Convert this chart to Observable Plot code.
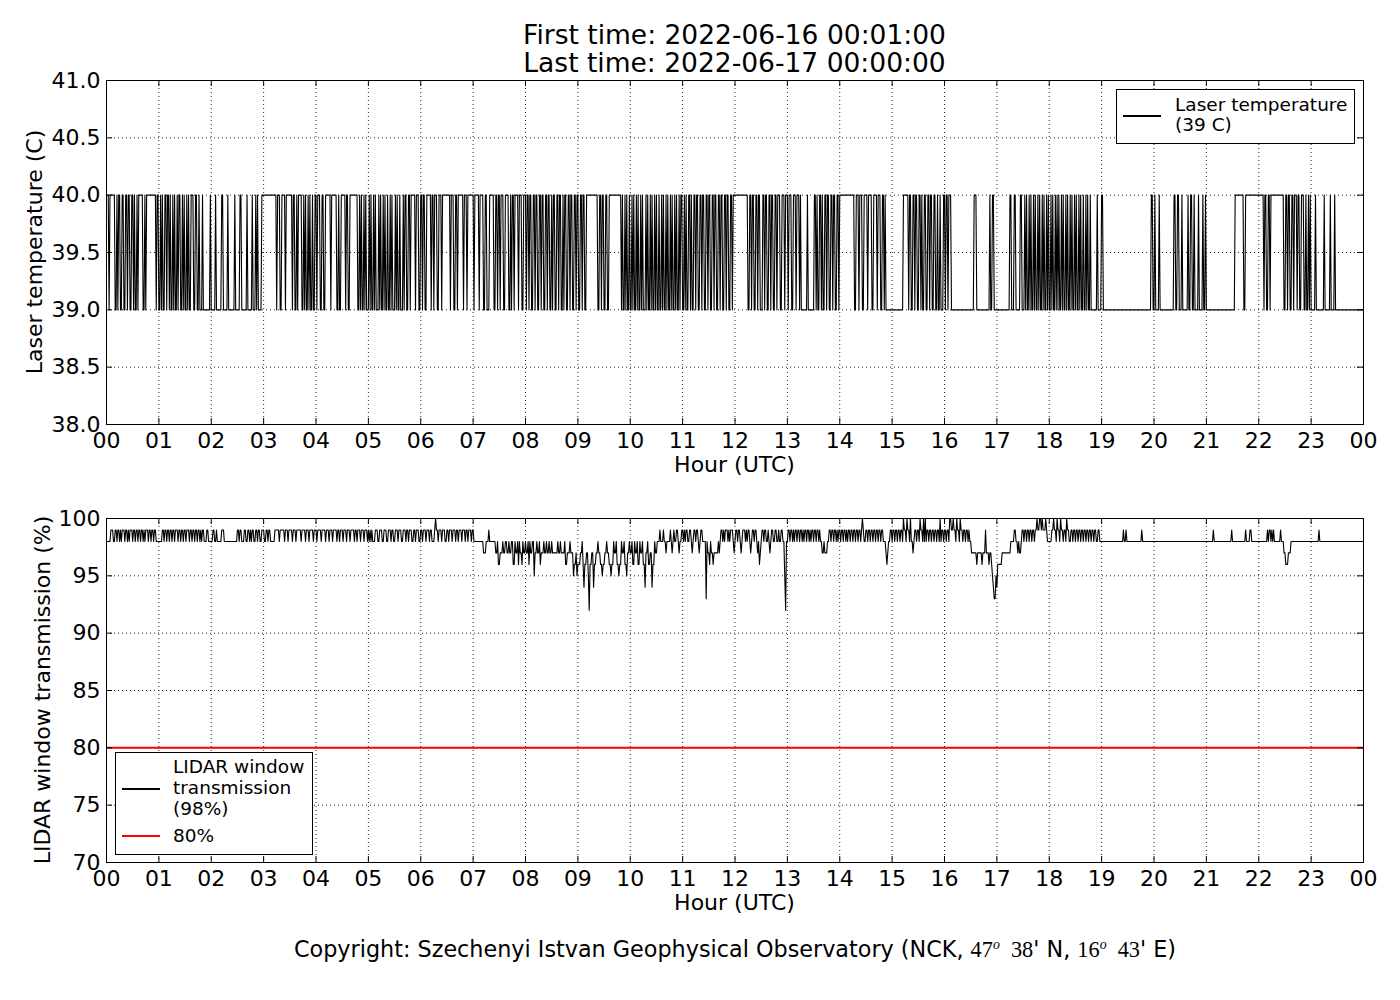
<!DOCTYPE html>
<html><head><meta charset="utf-8">
<script src="https://cdn.jsdelivr.net/npm/d3@7"></script>
<script src="https://cdn.jsdelivr.net/npm/@observablehq/plot@0.6"></script>
<style>
body{margin:0;background:#fff;}
#root{position:relative;width:1400px;height:1000px;background:#fff;font-family:"DejaVu Sans",sans-serif;color:#000;overflow:hidden}
.t{position:absolute;white-space:nowrap;line-height:0.8;transform:translate(-50%,-50%)}
.r{position:absolute;white-space:nowrap;line-height:0.8;transform:translate(-50%,-50%) rotate(-90deg)}
.tl{position:absolute;white-space:nowrap;line-height:0.9;transform:translate(0,-50%)}
.m{font-family:"Liberation Serif","DejaVu Serif",serif;}
.m sup{font-style:italic;font-size:0.62em;vertical-align:0.6em;line-height:0}
.box{position:absolute;border:1px solid #000;background:#fff;box-sizing:border-box}
.sw{position:absolute}
</style></head><body><div id="root"></div>
<script>
// ---------- axis ticks ----------
const hourTicks = [0,1,2,3,4,5,6,7,8,9,10,11,12,13,14,15,16,17,18,19,20,21,22,23,24];
const hourLabels = ["00","01","02","03","04","05","06","07","08","09","10","11","12","13","14","15","16","17","18","19","20","21","22","23","00"];
const tempTicks = [38,38.5,39,39.5,40,40.5,41];
const tempLabels = ["38.0","38.5","39.0","39.5","40.0","40.5","41.0"];
const transTicks = [70,75,80,85,90,95,100];
const transLabels = ["70","75","80","85","90","95","100"];

// ---------- laser temperature (C): baseline 40, spans [startMin, endMin] at 39 ----------
const laserBase = 40, laserLow = 39;
const laserLow00_03 = [[3,3],[10,11],[13,13],[16,17],[20,21],[24,24],[27,28],[31,31],[33,34],[36,36],[42,43],[45,45],
 [57,57],[60,61],[63,63],[65,66],[69,69],[72,72],[74,75],[77,77],[79,80],[82,82],[85,86],[88,88],[90,91],[93,93],[95,96],[100,101],[104,105],
 [107,109],[111,118],[120,124],[126,131],[134,138],[140,146],[148,152],[155,160],[162,166],[168,170],[172,172],[174,177]];
const laserLow03_08 = [[195,195],[199,200],[205,205],[213,213],[216,217],[219,219],[224,225],[227,227],[229,230],[232,232],[234,235],[237,238],
 [241,241],[245,246],[249,250],[257,257],[264,265],[267,268],[274,274],[277,278],
 [288,289],[291,291],[293,294],[296,296],[298,300],[302,302],[304,305],[307,307],[309,311],[313,313],[315,316],[318,318],[320,321],[323,324],[326,326],[328,330],[332,332],[334,335],[337,339],
 [341,341],[344,345],[348,348],[354,354],[358,359],
 [362,362],[365,366],[372,372],[375,375],[379,380],[384,384],[394,394],[398,399],[402,402],[409,409],[413,413],
 [421,421],[427,427],[432,433],[436,438],[444,445],[448,448],[451,451],[455,456],[461,462],[464,464],[467,467],[472,472],[476,477]];
const laserLow08_16 = [[481,481],[484,484],[487,488],[491,491],[494,495],[498,498],[501,502],[505,505],[508,509],[511,511],[514,515],[518,518],[521,522],[524,524],[527,528],[531,531],[534,535],[538,538],[541,542],[545,545],[548,549],
 [563,564],[567,567],[570,571],[574,575],
 [590,590],[592,593],[595,595],[597,598],[600,601],[603,603],[605,606],[608,608],[610,611],[613,613],[615,617],[619,619],[621,622],[624,624],[626,627],[629,629],[631,632],[634,635],[637,637],[639,640],[642,642],[644,645],[647,647],[649,650],[652,652],[654,655],[657,657],
 [660,661],[663,663],[665,666],[669,669],[671,672],[675,675],[678,679],[682,682],[685,686],[689,689],[692,693],[696,696],[699,700],[703,703],[706,707],[710,710],[713,714],[717,717],
 [735,736],[739,739],[742,743],[746,746],[749,751],[754,754],[757,758],[761,761],[764,765],[768,768],[772,773],[777,777],
 [781,781],[785,786],[790,790],[794,794],[796,802],[804,810],
 [813,813],[815,816],[819,819],[821,822],[825,825],[828,829],[832,832],[835,836],[839,839],
 [857,858],[862,862],[866,867],[872,872],[877,878],[883,883],[887,888],[891,891],[893,912],
 [919,919],[922,923],[926,926],[929,930],[933,933],[935,936],[939,940],[943,943],[946,947],[950,951],[953,954],[956,958]];
const laserLow16_24 = [[961,961],[964,964],[968,993],[997,1011],[1013,1014],[1017,1034],[1037,1039],[1042,1046],[1049,1051],
 [1053,1053],[1055,1056],[1058,1058],[1060,1061],[1063,1063],[1065,1066],[1068,1068],[1070,1071],[1073,1073],[1075,1076],[1078,1078],[1080,1081],[1083,1083],[1085,1086],[1088,1088],
 [1090,1090],[1092,1093],[1095,1095],[1097,1098],[1100,1100],[1102,1103],[1105,1105],[1107,1108],[1110,1110],[1112,1113],[1115,1115],[1117,1118],[1120,1121],[1123,1123],[1125,1126],
 [1128,1134],[1136,1139],[1142,1196],[1199,1200],[1202,1205],[1207,1222],[1225,1226],[1229,1231],[1233,1238],[1240,1241],[1244,1245],[1247,1250],[1252,1255],[1257,1258],[1260,1292],
 [1303,1304],[1326,1326],[1329,1330],[1333,1333],[1349,1350],[1353,1353],[1356,1357],[1360,1360],[1364,1364],[1367,1368],[1372,1373],[1375,1376],
 [1378,1378],[1380,1384],[1386,1394],[1396,1401],[1403,1406],[1408,1440]];

// ---------- LIDAR window transmission (%): baseline 98, spans [startMin, endMin, value] ----------
const transBase = 98;
const trans00_07 = [[5,7,99],[10,11,99],[13,14,99],[16,16,99],[18,20,99],[22,23,99],[25,25,99],[27,29,99],[31,32,99],[34,35,99],[37,38,99],[40,41,99],[43,43,99],[45,47,99],[49,50,99],[52,53,99],[55,56,99],
 [64,65,99],[67,68,99],[70,71,99],[73,74,99],[76,77,99],[79,81,99],[83,84,99],[86,87,99],[89,90,99],[92,94,99],[96,97,99],[99,100,99],[102,103,99],[105,106,99],[108,108,99],[110,111,99],
 [115,116,99],[122,123,99],[126,126,99],[132,134,99],
 [150,151,99],[153,154,99],[158,159,99],[162,163,99],[165,165,99],[167,168,99],[171,172,99],[174,175,99],[178,180,99],[183,184,99],[186,187,99],
 [193,197,99],[199,203,99],[205,207,99],[209,212,99],[214,216,99],[218,222,99],[224,227,99],[229,231,99],[233,236,99],[238,240,99],[242,245,99],
 [247,250,99],[252,254,99],[256,258,99],[260,263,99],[265,266,99],[268,270,99],[272,274,99],[276,278,99],[280,283,99],[285,286,99],[288,290,99],[292,294,99],[296,298,99],
 [300,300,99],[302,302,99],[304,304,99],[308,310,99],[313,315,99],[318,320,99],[323,325,99],[327,328,99],
 [331,333,99],[335,337,99],[340,342,99],[344,345,99],[347,349,99],[352,353,99],[355,357,99],[360,361,99],[363,365,99],[367,369,99],[371,372,99],
 [376,376,99],[377,377,100],[378,379,99],
 [381,383,99],[385,387,99],[390,391,99],[393,395,99],[397,399,99],[401,402,99],[404,406,99],[408,410,99],[412,413,99],[415,417,99],[419,420,99]];
const trans07_14 = [[432,434,97],[438,438,99],[446,447,97],[449,450,96],[451,453,97],[455,456,97],[459,460,97],[462,463,97],[466,467,96],[469,470,97],[472,472,96],[474,475,97],[476,476,96],[478,479,97],[481,482,97],[484,484,96],
 [486,487,97],[490,490,95],[491,492,97],[494,495,97],[497,497,96],[498,500,97],[502,503,97],[505,506,97],[508,509,97],[511,516,97],[518,519,97],[521,524,97],[526,527,96],[528,530,97],[532,534,97],[535,535,95],[536,537,96],
 [538,538,97],[539,539,95],[540,542,96],[543,544,97],[546,546,96],[547,547,94],[548,549,96],[550,551,97],[552,552,95],[553,553,92],[554,555,96],[556,557,97],[558,558,94],[559,560,96],[561,562,97],
 [564,565,97],[566,567,96],[568,568,95],[569,570,96],[571,572,97],[574,575,97],[576,577,96],[578,578,95],[579,580,96],[582,583,97],[585,586,96],[587,587,95],[588,589,96],[591,592,97],[594,595,96],[596,596,95],[597,598,97],
 [600,601,97],[603,604,96],[606,607,97],[609,610,96],[612,613,97],[615,616,96],[617,617,94],[618,619,97],[621,622,96],[623,624,97],[625,625,94],[626,627,96],[629,630,97],[634,634,99],
 [638,638,99],[641,641,97],[646,646,99],[648,648,97],[650,650,99],[653,654,99],[656,656,97],
 [659,660,99],[662,662,99],[664,665,99],[668,669,99],[671,671,97],[673,674,99],[676,677,99],[679,679,97],[681,682,99],[687,687,93],
 [689,690,97],[691,691,96],[693,694,97],[695,695,96],[696,700,97],[702,702,97],
 [704,705,99],[707,707,99],[709,711,99],[713,713,99],[715,717,99],[719,719,97],[721,722,99],[724,725,99],[727,727,97],[729,731,99],[733,733,99],[735,736,99],[738,738,97],[740,741,99],[743,744,99],[746,746,97],[748,748,96],[749,749,97],
 [751,752,99],[754,755,99],[758,758,99],[760,760,97],[762,763,99],[766,767,99],[770,770,99],[773,774,99],[777,777,95],[778,778,92],
 [781,782,99],[784,785,99],[787,787,99],[789,790,99],[792,793,99],[795,796,99],[798,798,99],[800,801,99],[803,804,99],[806,806,99],[808,809,99],[811,812,99],[814,815,99],[817,817,99],[820,821,97],[823,825,97],[828,829,99],
 [831,832,99],[834,835,99],[837,837,99],[839,840,99]];
const trans14_24 = [[842,843,99],[845,846,99],[848,848,99],[850,851,99],[853,854,99],[856,857,99],[859,860,99],[862,863,99],[865,865,99],[866,866,100],[867,867,99],[870,871,99],[873,874,99],[876,877,99],[879,880,99],[882,883,99],[885,886,99],[888,889,99],[893,893,97],[894,894,96],[895,895,97],
 [898,899,99],[901,902,99],[904,905,99],[907,908,99],[910,911,99],[913,913,100],[914,915,99],[917,917,100],[918,919,99],[921,921,100],[924,924,97],[926,927,99],[929,930,99],[932,932,100],[933,934,99],[936,936,100],[938,938,100],[940,941,99],[943,944,99],[946,947,99],[949,950,99],[952,953,99],[955,955,100],[957,958,99],[960,961,99],[963,964,99],[966,967,100],
 [968,969,99],[970,970,100],[971,972,99],[974,974,100],[975,976,99],[978,978,100],[979,980,99],[982,983,99],[985,986,99],[988,988,99],
 [991,996,97],[997,997,96],[998,1002,97],[1003,1003,96],[1004,1006,97],[1007,1007,99],[1008,1010,97],[1011,1011,96],[1012,1013,97],[1014,1014,96],[1015,1015,95],[1016,1016,94],[1017,1018,93],[1019,1019,95],[1020,1020,94],[1021,1025,96],[1026,1035,97],[1040,1041,99],[1044,1044,97],[1046,1047,97],
 [1049,1050,99],[1052,1053,99],[1055,1056,99],[1058,1059,99],[1061,1062,99],[1064,1065,99],
 [1066,1066,100],[1067,1068,99],[1069,1070,100],[1071,1071,99],[1072,1072,100],[1073,1075,99],[1076,1076,100],[1077,1077,99],
 [1083,1084,99],[1085,1085,100],[1086,1087,99],[1089,1089,100],[1090,1091,99],[1093,1093,100],[1094,1095,99],[1097,1098,99],[1100,1100,100],[1101,1102,99],
 [1105,1106,99],[1108,1109,99],[1111,1112,99],[1114,1115,99],[1117,1118,99],[1120,1121,99],[1123,1124,99],[1126,1127,99],[1129,1130,99],[1132,1133,99],[1136,1137,99],
 [1165,1165,99],[1168,1168,99],[1186,1186,99],[1268,1268,99],[1289,1289,99],[1305,1305,99],[1310,1311,99],[1330,1330,99],[1332,1333,99],[1335,1335,99],[1337,1337,99],[1345,1345,99],[1349,1350,97],[1351,1353,96],[1354,1356,97],[1389,1389,99]];
const thresholdPct = [80];
const firstMin = 1, lastMin = 1440;

// ---------- build step series from spans ----------
function buildSeries(spans, base, t0, t1) {
  const pts = [[t0, base]];
  let prevEnd = null;
  for (const [s, e, v] of spans) {
    if (prevEnd === null) { if (s > t0 + 1) pts.push([s - 1, base]); }
    else if (s > prevEnd + 1) { pts.push([prevEnd + 1, base]); if (s - 1 > prevEnd + 1) pts.push([s - 1, base]); }
    pts.push([s, v]); if (e > s) pts.push([e, v]);
    prevEnd = e;
  }
  if (prevEnd !== null && prevEnd < t1) { pts.push([prevEnd + 1, base]); pts.push([t1, base]); }
  return pts.map(([t, v]) => ({hour: t / 60, value: v}));
}
const laserSpans = [...laserLow00_03, ...laserLow03_08, ...laserLow08_16, ...laserLow16_24].map(([s, e]) => [s, e, laserLow]);
const laserData = buildSeries(laserSpans, laserBase, firstMin, lastMin);
const transData = buildSeries([...trans00_07, ...trans07_14, ...trans14_24], transBase, firstMin, lastMin);

// ---------- layout ----------
const root = document.getElementById("root");
const W = 1400, ML = 106, MR = 37, frameW = W - ML - MR;
const FONT = '"DejaVu Sans", sans-serif';

function panel({height, marginTop, marginBottom, yDomain, yTicks, yLabels, marks}) {
  const frameH = height - marginTop - marginBottom;
  const grid = {stroke: "black", strokeOpacity: 0.85, strokeWidth: 1, strokeDasharray: "1,3"};
  return Plot.plot({
    width: W, height, marginLeft: ML, marginRight: MR, marginTop, marginBottom,
    style: {fontFamily: FONT, fontSize: "22px", background: "white", color: "black", overflow: "visible"},
    x: {domain: [0, 24]},
    y: {domain: yDomain},
    marks: [
      Plot.ruleX(hourTicks, {x: d => d, ...grid}),
      Plot.ruleY(yTicks, {y: d => d, ...grid}),
      ...marks,
      Plot.frame({stroke: "black", strokeWidth: 1}),
      Plot.tickX(hourTicks, {x: d => d, stroke: "black", insetTop: frameH - 6}),
      Plot.tickX(hourTicks, {x: d => d, stroke: "black", insetBottom: frameH - 6}),
      Plot.tickY(yTicks, {y: d => d, stroke: "black", insetRight: frameW - 6}),
      Plot.tickY(yTicks, {y: d => d, stroke: "black", insetLeft: frameW - 6}),
      Plot.axisX({ticks: hourTicks, tickFormat: d => hourLabels[hourTicks.indexOf(d)], tickSize: 0, tickPadding: 8, label: null, fontSize: 22}),
      Plot.axisY({ticks: yTicks, tickFormat: d => yLabels[yTicks.indexOf(d)], tickSize: 0, tickPadding: 6, label: null, fontSize: 22})
    ]
  });
}

const top1 = panel({height: 480, marginTop: 80, marginBottom: 56, yDomain: [38, 41], yTicks: tempTicks, yLabels: tempLabels,
  marks: [Plot.line(laserData, {x: "hour", y: "value", stroke: "black", strokeWidth: 1.1})]});
top1.style.position = "absolute"; top1.style.left = "0px"; top1.style.top = "0px";
root.append(top1);

const bot = panel({height: 520, marginTop: 38, marginBottom: 138, yDomain: [70, 100], yTicks: transTicks, yLabels: transLabels,
  marks: [
    Plot.line(transData, {x: "hour", y: "value", stroke: "black", strokeWidth: 1.1}),
    Plot.ruleY(thresholdPct, {y: d => d, stroke: "red", strokeWidth: 2})
  ]});
bot.style.position = "absolute"; bot.style.left = "0px"; bot.style.top = "480px";
root.append(bot);

function txt(html, x, y, size, cls = "t") {
  const d = document.createElement("div");
  d.className = cls; d.innerHTML = html;
  d.style.left = x + "px"; d.style.top = y + "px"; d.style.fontSize = size + "px";
  root.append(d); return d;
}
const cx = ML + frameW / 2;
txt("First time: 2022-06-16 00:01:00", cx, 35, 26.5);
txt("Last time: 2022-06-17 00:00:00", cx, 63, 26.5);
txt("Laser temperature (C)", 35, 252, 22, "r");
txt("Hour (UTC)", cx, 465, 22);
txt("LIDAR window transmission (%)", 43, 690, 22, "r");
txt("Hour (UTC)", cx, 902.5, 22);
txt('Copyright: Szechenyi Istvan Geophysical Observatory (NCK, <span class="m">47<sup>o</sup>&nbsp;&nbsp;38</span>\' N, <span class="m">16<sup>o</sup>&nbsp;&nbsp;43</span>\' E)', 735, 950, 22.3);

// legends
function box(x, y, w, h) { const b = document.createElement("div"); b.className = "box";
  Object.assign(b.style, {left: x + "px", top: y + "px", width: w + "px", height: h + "px"}); root.append(b); }
function swatch(x, y, w, color, lw) { const s = document.createElement("div"); s.className = "sw";
  Object.assign(s.style, {left: x + "px", top: (y - lw / 2) + "px", width: w + "px", height: lw + "px", background: color}); root.append(s); }
box(1116, 89, 239, 55);
swatch(1123, 116, 38, "black", 1.2);
txt("Laser temperature", 1175, 105, 18.5, "tl");
txt("(39 C)", 1175, 125, 18.5, "tl");
box(115, 752, 198, 103);
swatch(122, 789, 38, "black", 1.2);
swatch(122, 836, 38, "red", 2.5);
txt("LIDAR window", 173, 767, 18.5, "tl");
txt("transmission", 173, 788, 18.5, "tl");
txt("(98%)", 173, 809, 18.5, "tl");
txt("80%", 173, 836, 18.5, "tl");
</script></body></html>
